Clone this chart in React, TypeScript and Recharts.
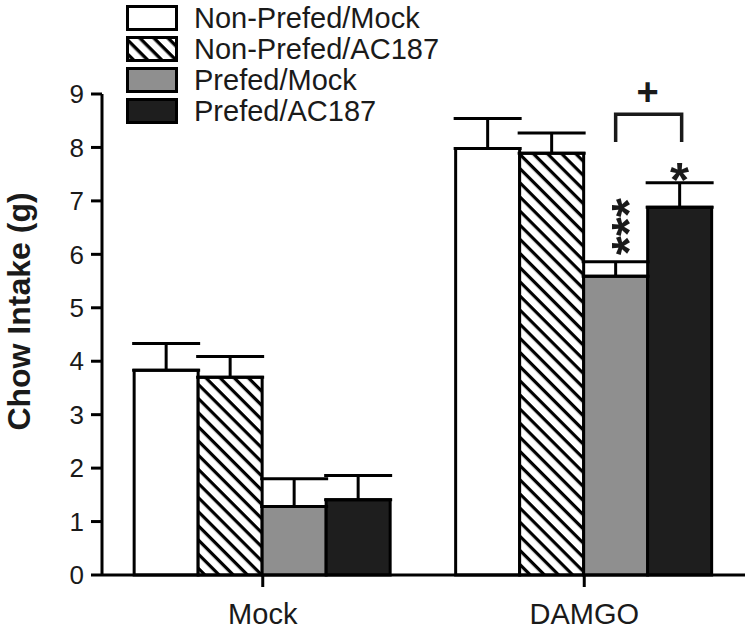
import { BarChart, Bar, XAxis, YAxis, ErrorBar, Legend, LabelList, Label } from 'recharts'

const categories = ['Mock', 'DAMGO']
const seriesNames = ['Non-Prefed/Mock', 'Non-Prefed/AC187', 'Prefed/Mock', 'Prefed/AC187']

const nonPrefedMock = [3.83, 7.98]
const nonPrefedMockErr = [0.5, 0.56]
const nonPrefedAc187 = [3.7, 7.89]
const nonPrefedAc187Err = [0.39, 0.38]
const prefedMock = [1.28, 5.59]
const prefedMockErr = [0.52, 0.27]
const prefedAc187 = [1.41, 6.88]
const prefedAc187Err = [0.45, 0.46]

const yTicks = [0, 1, 2, 3, 4, 5, 6, 7, 8, 9]

// significance marks (DAMGO group only)
const prefedMockStars = ['', '***']
const prefedAc187Stars = ['', '*']
const bracketLow = 8.1
const bracketHigh = 8.62
const plusLevel = 9.03

const font = "'Liberation Sans', Arial, Helvetica, sans-serif"
const ink = '#1a1a1a'
const fills = ['#ffffff', 'url(#hatch)', '#8f8f8f', '#1e1e1e']

const data = categories.map((name, i) => ({
  name,
  nonPrefedMock: nonPrefedMock[i],
  nonPrefedMockErr: [0, nonPrefedMockErr[i]],
  nonPrefedAc187: nonPrefedAc187[i],
  nonPrefedAc187Err: [0, nonPrefedAc187Err[i]],
  prefedMock: prefedMock[i],
  prefedMockErr: [0, prefedMockErr[i]],
  prefedAc187: prefedAc187[i],
  prefedAc187Err: [0, prefedAc187Err[i]],
  prefedMockStars: prefedMockStars[i],
  prefedAc187Stars: prefedAc187Stars[i],
}))

const starLabel = (values: number[], errs: number[], stars: string[], withBracket: boolean) => (props: any) => {
  const vb = props.viewBox ?? props
  const marks = props.value as string
  if (!marks || !vb) return null
  const i = typeof props.index === 'number' ? props.index : stars.indexOf(marks)
  const { x, y, width, height } = vb
  const perUnit = height / values[i]
  const base = y + height
  const capY = y - errs[i] * perUnit
  const cx = x + width / 2
  const fs = 49
  const step = fs * 0.389
  const lowest = capY - 16
  // stacked stars: one string turned upright so the marks sit above each other
  const midY = lowest - ((marks.length - 1) * step) / 2
  return (
    <g>
      {marks.length > 1 ? (
        <text
          transform={`translate(${cx + fs * 0.6}, ${midY}) rotate(-90)`}
          textAnchor="middle"
          fontSize={fs}
          fontWeight="bold"
          fontFamily={font}
          fill={ink}
        >
          {marks}
        </text>
      ) : (
        <text x={cx} y={lowest + fs * 0.6} textAnchor="middle" fontSize={fs} fontWeight="bold" fontFamily={font} fill={ink}>
          {marks}
        </text>
      )}
      {withBracket && (
        <g>
          <path
            d={`M${cx - width},${base - bracketLow * perUnit} V${base - bracketHigh * perUnit} H${cx + 2} V${base - bracketLow * perUnit}`}
            fill="none"
            stroke={ink}
            strokeWidth={3.5}
          />
          <text
            x={cx - width / 2}
            y={base - plusLevel * perUnit + 13}
            textAnchor="middle"
            fontSize={38}
            fontWeight="bold"
            fontFamily={font}
            fill={ink}
          >
            +
          </text>
        </g>
      )}
    </g>
  )
}

const renderLegend = () => (
  <div style={{ fontFamily: font, fontSize: 29, color: ink }}>
    {seriesNames.map((name, i) => (
      <div key={name} style={{ display: 'flex', alignItems: 'center', height: 31 }}>
        <svg width={52} height={26} style={{ display: 'block' }}>
          <defs>
            <pattern id={`hatchLegend${i}`} patternUnits="userSpaceOnUse" width={10} height={10} patternTransform="rotate(45)">
              <rect width={10} height={10} fill="#fff" />
              <rect x={0} y={0} width={10} height={3.4} fill="#000" />
            </pattern>
          </defs>
          <rect
            x={1.5}
            y={1.5}
            width={49}
            height={23}
            fill={i === 1 ? `url(#hatchLegend${i})` : fills[i]}
            stroke="#000"
            strokeWidth={3}
          />
        </svg>
        <span style={{ marginLeft: 16, lineHeight: '26px' }}>{name}</span>
      </div>
    ))}
  </div>
)

const renderYTitle = (props: any) => {
  const vb = props.viewBox
  const x = vb.x + 19
  const y = vb.y + vb.height / 2 - 23
  return (
    <text
      x={x}
      y={y}
      transform={`rotate(-90, ${x}, ${y})`}
      textAnchor="middle"
      dominantBaseline="central"
      fontSize={32}
      fontWeight="bold"
      fontFamily={font}
      fill={ink}
    >
      Chow Intake (g)
    </text>
  )
}

export default function App() {
  return (
    <div style={{ position: 'absolute', left: 0, top: 0, background: '#fff' }}>
      <BarChart
        width={751}
        height={631}
        data={data}
        margin={{ top: 94, right: 6, bottom: 0, left: 0 }}
        barGap={0}
        barCategoryGap="10%"
      >
        <defs>
          <pattern id="hatch" patternUnits="userSpaceOnUse" width={10} height={10} patternTransform="rotate(45)">
            <rect width={10} height={10} fill="#fff" />
            <rect x={0} y={0} width={10} height={3.2} fill="#000" />
          </pattern>
        </defs>
        <XAxis
          dataKey="name"
          height={56}
          axisLine={{ stroke: '#000', strokeWidth: 3 }}
          tickLine={{ stroke: '#000', strokeWidth: 3 }}
          tickSize={12}
          tickMargin={16}
          tick={{ fill: ink, fontSize: 29, fontFamily: font }}
        />
        <YAxis
          domain={[0, 9]}
          ticks={yTicks}
          interval={0}
          width={102}
          axisLine={{ stroke: '#000', strokeWidth: 3 }}
          tickLine={{ stroke: '#000', strokeWidth: 3 }}
          tickSize={11}
          tickMargin={7}
          tick={{ fill: ink, fontSize: 26, fontFamily: font }}
        >
          <Label content={renderYTitle} />
        </YAxis>
        <Legend
          content={renderLegend}
          layout="horizontal"
          verticalAlign="middle"
          align="center"
          wrapperStyle={{ left: 126, top: 2, width: 'auto', height: 'auto' }}
        />
        <Bar dataKey="nonPrefedMock" name={seriesNames[0]} fill={fills[0]} stroke="#000" strokeWidth={3} isAnimationActive={false}>
          <ErrorBar dataKey="nonPrefedMockErr" width={34} stroke="#000" strokeWidth={3} direction="y" />
        </Bar>
        <Bar dataKey="nonPrefedAc187" name={seriesNames[1]} fill={fills[1]} stroke="#000" strokeWidth={3} isAnimationActive={false}>
          <ErrorBar dataKey="nonPrefedAc187Err" width={34} stroke="#000" strokeWidth={3} direction="y" />
        </Bar>
        <Bar dataKey="prefedMock" name={seriesNames[2]} fill={fills[2]} stroke="#000" strokeWidth={3} isAnimationActive={false}>
          <ErrorBar dataKey="prefedMockErr" width={34} stroke="#000" strokeWidth={3} direction="y" />
          <LabelList dataKey="prefedMockStars" content={starLabel(prefedMock, prefedMockErr, prefedMockStars, false)} />
        </Bar>
        <Bar dataKey="prefedAc187" name={seriesNames[3]} fill={fills[3]} stroke="#000" strokeWidth={3} isAnimationActive={false}>
          <ErrorBar dataKey="prefedAc187Err" width={34} stroke="#000" strokeWidth={3} direction="y" />
          <LabelList dataKey="prefedAc187Stars" content={starLabel(prefedAc187, prefedAc187Err, prefedAc187Stars, true)} />
        </Bar>
      </BarChart>
    </div>
  )
}
